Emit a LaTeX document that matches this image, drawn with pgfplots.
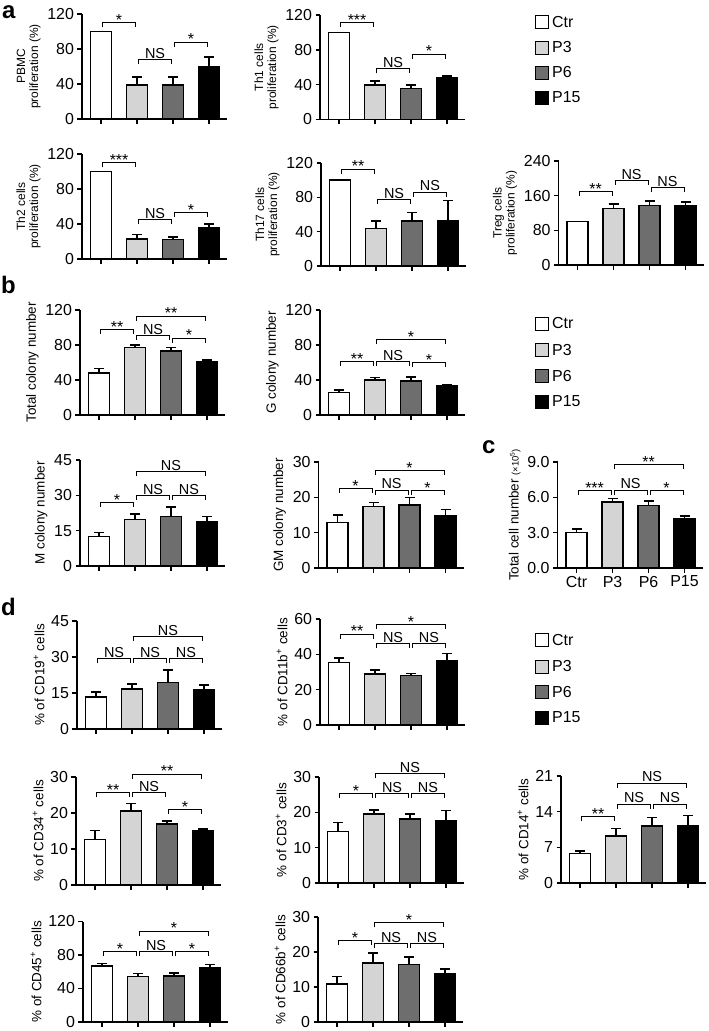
\documentclass[border=0pt]{standalone}
\usepackage{fontspec}
\setmainfont{Liberation Sans}
\usepackage{pgfplots}
\pgfplotsset{compat=1.18}
\usetikzlibrary{calc}
\definecolor{cP3}{gray}{0.83}
\definecolor{cP6}{gray}{0.43}
\newcommand{\tickf}{\fontsize{16}{16}\selectfont}
\newcommand{\labA}{\fontsize{12}{13}\selectfont}
\newcommand{\labB}{\fontsize{13.5}{15}\selectfont}
\newcommand{\sigf}{\fontsize{14.5}{14.5}\selectfont}
\newcommand{\starf}{\fontsize{16}{16}\selectfont}
\newcommand{\legf}{\fontsize{16}{16}\selectfont}
\newcommand{\letf}{\fontsize{24}{24}\selectfont\bfseries}
\pgfplotsset{
 panel/.style={anchor=south west, scale only axis, width=145bp,
  xmin=-0.53, xmax=3.5, ymin=0, clip=false,
  axis x line=bottom, axis y line=left, axis line style={-, line width=1.4bp},
  xtick={0,1,2,3}, xticklabels={},
  tick align=outside, major tick length=4.5bp, tick style={black, line width=1.4bp},
  tick label style={font=\tickf}, /pgf/number format/assume math mode=true,
  ylabel style={font=\labB, align=center}},
 bar/.style={ybar, bar width=21bp, draw=black, line width=1.4bp,
  error bars/y dir=plus, error bars/y explicit,
  error bars/error bar style={black, line width=1.4bp},
  error bars/error mark options={black, rotate=90, mark size=5bp, line width=1.4bp}},
}
% bracket with NS text
\newcommand{\br}[4]{%
 \draw[line width=1bp] ([xshift=1.5bp,yshift=-4.5bp]axis cs:#1,#3) -- ([xshift=1.5bp]axis cs:#1,#3) -- ([xshift=-1.5bp]axis cs:#2,#3) -- ([xshift=-1.5bp,yshift=-4.5bp]axis cs:#2,#3);
 \node[anchor=south, inner sep=0pt, yshift=1bp, font=\sigf] at ($(axis cs:#1,#3)!0.5!(axis cs:#2,#3)$) {#4};}
% bracket with stars
\newcommand{\brs}[4]{%
 \draw[line width=1bp] ([xshift=1.5bp,yshift=-4.5bp]axis cs:#1,#3) -- ([xshift=1.5bp]axis cs:#1,#3) -- ([xshift=-1.5bp]axis cs:#2,#3) -- ([xshift=-1.5bp,yshift=-4.5bp]axis cs:#2,#3);
 \node[anchor=south, inner sep=0pt, yshift=-3bp, font=\starf] at ($(axis cs:#1,#3)!0.5!(axis cs:#2,#3)$) {#4};}
\newcommand{\legentry}[3]{%
 \draw[line width=1bp, fill=#2] (535bp,-#1bp) ++(0,6.5bp) rectangle ++(13bp,-13bp);
 \node[anchor=west, inner sep=0pt, font=\legf] at (552bp,-#1bp) {#3};}
\begin{document}
\begin{tikzpicture}
\useasboundingbox (0,0) rectangle (709bp,-1031bp);
% panel letters
\node[anchor=north west, inner sep=0pt, font=\letf] at (2bp,-5bp) {a};
\node[anchor=north west, inner sep=0pt, font=\letf] at (1bp,-276bp) {b};
\node[anchor=north west, inner sep=0pt, font=\letf] at (482bp,-440bp) {c};
\node[anchor=north west, inner sep=0pt, font=\letf] at (1bp,-598bp) {d};
% legends
\legentry{22}{white}{Ctr}\legentry{47.5}{cP3}{P3}\legentry{72.5}{cP6}{P6}\legentry{97.5}{black}{P15}
\legentry{323.5}{white}{Ctr}\legentry{350}{cP3}{P3}\legentry{376}{cP6}{P6}\legentry{401.5}{black}{P15}
\legentry{640}{white}{Ctr}\legentry{666.5}{cP3}{P3}\legentry{692}{cP6}{P6}\legentry{717.5}{black}{P15}

% PBMC
\begin{axis}[panel, at={(82bp,-119bp)}, height=105bp, ymax=120, ytick={0,40,80,120},
  ylabel={PBMC\\proliferation (\%)}, ylabel style={font=\labA}]
\addplot[bar, fill=white] coordinates {(0,100) +- (0,0)};
\addplot[bar, fill=cP3] coordinates {(1,39) +- (0,9)};
\addplot[bar, fill=cP6] coordinates {(2,39) +- (0,9)};
\addplot[bar, fill=black] coordinates {(3,60) +- (0,11)};
\brs{0}{1}{110}{*}\br{1}{2}{68}{NS}\brs{2}{3}{88}{*}
\end{axis}
% Th1
\begin{axis}[panel, at={(320bp,-119.5bp)}, height=104.5bp, ymax=120, ytick={0,40,80,120},
  ylabel={Th1 cells\\proliferation (\%)}, ylabel style={font=\labA}]
\addplot[bar, fill=white] coordinates {(0,100) +- (0,0)};
\addplot[bar, fill=cP3] coordinates {(1,39.5) +- (0,4.5)};
\addplot[bar, fill=cP6] coordinates {(2,35.3) +- (0,4.2)};
\addplot[bar, fill=black] coordinates {(3,48.5) +- (0,1.5)};
\brs{0}{1}{111}{***}\br{1}{2}{58}{NS}\brs{2}{3}{75}{*}
\end{axis}
% Th2
\begin{axis}[panel, at={(82bp,-259bp)}, height=105bp, ymax=120, ytick={0,40,80,120},
  ylabel={Th2 cells\\proliferation (\%)}, ylabel style={font=\labA}]
\addplot[bar, fill=white] coordinates {(0,100) +- (0,0)};
\addplot[bar, fill=cP3] coordinates {(1,23) +- (0,5)};
\addplot[bar, fill=cP6] coordinates {(2,22.5) +- (0,2.5)};
\addplot[bar, fill=black] coordinates {(3,36) +- (0,4)};
\brs{0}{1}{110}{***}\br{1}{2}{44.6}{NS}\brs{2}{3}{53}{*}
\end{axis}
% Th17
\begin{axis}[panel, at={(321bp,-266bp)}, height=103bp, ymax=120, ytick={0,40,80,120},
  ylabel={Th17 cells\\proliferation (\%)}, ylabel style={font=\labA}]
\addplot[bar, fill=white] coordinates {(0,100) +- (0,0)};
\addplot[bar, fill=cP3] coordinates {(1,43.7) +- (0,8.8)};
\addplot[bar, fill=cP6] coordinates {(2,52.5) +- (0,9.5)};
\addplot[bar, fill=black] coordinates {(3,53) +- (0,23.5)};
\brs{0}{1}{113}{**}\br{1}{2}{77}{NS}\br{2}{3}{86}{NS}
\end{axis}
% Treg
\begin{axis}[panel, at={(558.5bp,-265bp)}, height=104bp, ymax=240, ytick={0,80,160,240},
  ylabel={Treg cells\\proliferation (\%)}, ylabel style={font=\labA}]
\addplot[bar, fill=white] coordinates {(0,100) +- (0,0)};
\addplot[bar, fill=cP3] coordinates {(1,131) +- (0,10)};
\addplot[bar, fill=cP6] coordinates {(2,138) +- (0,10)};
\addplot[bar, fill=black] coordinates {(3,137) +- (0,8)};
\brs{0}{1}{169}{**}\br{1}{2}{194}{NS}\br{2}{3}{179}{NS}
\end{axis}
% Total colony
\begin{axis}[panel, at={(80bp,-415bp)}, height=105bp, ymax=120, ytick={0,40,80,120},
  ylabel={Total colony number}]
\addplot[bar, fill=white] coordinates {(0,48) +- (0,5)};
\addplot[bar, fill=cP3] coordinates {(1,77) +- (0,3)};
\addplot[bar, fill=cP6] coordinates {(2,73) +- (0,4)};
\addplot[bar, fill=black] coordinates {(3,61) +- (0,2)};
\brs{0}{1}{98}{**}\brs{1}{3}{113}{**}\br{1}{2}{91}{NS}\brs{2}{3}{88}{*}
\end{axis}
% G colony
\begin{axis}[panel, at={(320bp,-415bp)}, height=105bp, ymax=120, ytick={0,40,80,120},
  ylabel={G colony number}]
\addplot[bar, fill=white] coordinates {(0,26) +- (0,2.5)};
\addplot[bar, fill=cP3] coordinates {(1,40) +- (0,3)};
\addplot[bar, fill=cP6] coordinates {(2,39) +- (0,4.5)};
\addplot[bar, fill=black] coordinates {(3,33) +- (0,2)};
\brs{0}{1}{61}{**}\brs{1}{3}{86}{*}\br{1}{2}{61}{NS}\brs{2}{3}{60}{*}
\end{axis}
% M colony
\begin{axis}[panel, at={(80bp,-566bp)}, height=106bp, ymax=45, ytick={0,15,30,45},
  ylabel={M colony number}]
\addplot[bar, fill=white] coordinates {(0,12.4) +- (0,1.7)};
\addplot[bar, fill=cP3] coordinates {(1,19.8) +- (0,2.2)};
\addplot[bar, fill=cP6] coordinates {(2,21) +- (0,4)};
\addplot[bar, fill=black] coordinates {(3,19) +- (0,2)};
\brs{0}{1}{27}{*}\br{1}{3}{40}{NS}\br{1}{2}{30}{NS}\br{2}{3}{30}{NS}
\end{axis}
% GM colony
\begin{axis}[panel, at={(318.5bp,-568bp)}, height=106bp, ymax=30, ytick={0,10,20,30},
  ylabel={GM colony number}]
\addplot[bar, fill=white] coordinates {(0,12.8) +- (0,2.2)};
\addplot[bar, fill=cP3] coordinates {(1,17.4) +- (0,1.1)};
\addplot[bar, fill=cP6] coordinates {(2,17.8) +- (0,2.2)};
\addplot[bar, fill=black] coordinates {(3,14.7) +- (0,1.9)};
\brs{0}{1}{22.5}{*}\brs{1}{3}{27.5}{*}\br{1}{2}{22}{NS}\brs{2}{3}{22}{*}
\end{axis}
% c: total cell number
\begin{axis}[panel, at={(557.5bp,-568bp)}, height=106bp, ymax=9, ytick={0,3,6,9},
  yticklabels={0.0,3.0,6.0,9.0}, xticklabels={Ctr,P3,P6,P15},
  ylabel={Total cell number {\fontsize{9.5}{10}\selectfont(×10\textsuperscript{5})}}]
\addplot[bar, fill=white] coordinates {(0,3.0) +- (0,0.3)};
\addplot[bar, fill=cP3] coordinates {(1,5.6) +- (0,0.3)};
\addplot[bar, fill=cP6] coordinates {(2,5.3) +- (0,0.4)};
\addplot[bar, fill=black] coordinates {(3,4.15) +- (0,0.25)};
\brs{0}{1}{6.6}{***}\brs{1}{3}{8.75}{**}\br{1}{2}{6.6}{NS}\brs{2}{3}{6.6}{*}
\end{axis}
% CD19
\begin{axis}[panel, at={(77bp,-729bp)}, height=108bp, ymax=45, ytick={0,15,30,45},
  ylabel={\% of CD19\textsuperscript{+} cells}]
\addplot[bar, fill=white] coordinates {(0,13.4) +- (0,2.1)};
\addplot[bar, fill=cP3] coordinates {(1,16.7) +- (0,2.1)};
\addplot[bar, fill=cP6] coordinates {(2,19.4) +- (0,5.2)};
\addplot[bar, fill=black] coordinates {(3,16.3) +- (0,2.1)};
\br{0}{1}{29.4}{NS}\br{1}{3}{38.5}{NS}\br{1}{2}{29.4}{NS}\br{2}{3}{29.4}{NS}
\end{axis}
% CD11b
\begin{axis}[panel, at={(320bp,-725bp)}, height=106bp, ymax=60, ytick={0,20,40,60},
  ylabel={\% of CD11b\textsuperscript{+} cells}]
\addplot[bar, fill=white] coordinates {(0,35.3) +- (0,2.7)};
\addplot[bar, fill=cP3] coordinates {(1,28.9) +- (0,2.2)};
\addplot[bar, fill=cP6] coordinates {(2,27.9) +- (0,1.3)};
\addplot[bar, fill=black] coordinates {(3,36.2) +- (0,4.4)};
\brs{0}{1}{51.5}{**}\brs{1}{3}{57}{*}\br{1}{2}{46}{NS}\br{2}{3}{46}{NS}
\end{axis}
% CD34
\begin{axis}[panel, at={(76bp,-885bp)}, height=108bp, ymax=30, ytick={0,10,20,30},
  ylabel={\% of CD34\textsuperscript{+} cells}]
\addplot[bar, fill=white] coordinates {(0,12.6) +- (0,2.5)};
\addplot[bar, fill=cP3] coordinates {(1,20.6) +- (0,2.1)};
\addplot[bar, fill=cP6] coordinates {(2,17) +- (0,0.8)};
\addplot[bar, fill=black] coordinates {(3,15) +- (0,0.6)};
\brs{0}{1}{25.6}{**}\brs{1}{3}{30.8}{**}\br{1}{2}{25.6}{NS}\brs{2}{3}{21}{*}
\end{axis}
% CD3
\begin{axis}[panel, at={(319bp,-883bp)}, height=106bp, ymax=30, ytick={0,10,20,30},
  ylabel={\% of CD3\textsuperscript{+} cells}]
\addplot[bar, fill=white] coordinates {(0,14.6) +- (0,2.6)};
\addplot[bar, fill=cP3] coordinates {(1,19.5) +- (0,1.2)};
\addplot[bar, fill=cP6] coordinates {(2,18.1) +- (0,1.4)};
\addplot[bar, fill=black] coordinates {(3,17.5) +- (0,3)};
\brs{0}{1}{25.3}{*}\br{1}{3}{30.9}{NS}\br{1}{2}{25.3}{NS}\br{2}{3}{25.3}{NS}
\end{axis}
% CD14
\begin{axis}[panel, at={(561bp,-883bp)}, height=107bp, ymax=21, ytick={0,7,14,21},
  ylabel={\% of CD14\textsuperscript{+} cells}]
\addplot[bar, fill=white] coordinates {(0,5.8) +- (0,0.5)};
\addplot[bar, fill=cP3] coordinates {(1,9.2) +- (0,1.5)};
\addplot[bar, fill=cP6] coordinates {(2,11.2) +- (0,1.6)};
\addplot[bar, fill=black] coordinates {(3,11.2) +- (0,2)};
\brs{0}{1}{13}{**}\br{1}{3}{19.6}{NS}\br{1}{2}{15.5}{NS}\br{2}{3}{15.5}{NS}
\end{axis}
% CD45
\begin{axis}[panel, at={(83bp,-1022bp)}, height=100.5bp, ymax=120, ytick={0,40,80,120},
  ylabel={\% of CD45\textsuperscript{+} cells}]
\addplot[bar, fill=white] coordinates {(0,67) +- (0,3)};
\addplot[bar, fill=cP3] coordinates {(1,54) +- (0,4)};
\addplot[bar, fill=cP6] coordinates {(2,55) +- (0,3.5)};
\addplot[bar, fill=black] coordinates {(3,65) +- (0,3.5)};
\brs{0}{1}{84}{*}\brs{1}{3}{108.6}{*}\br{1}{2}{83.6}{NS}\brs{2}{3}{83.6}{*}
\end{axis}
% CD66b
\begin{axis}[panel, at={(318bp,-1022bp)}, height=105bp, ymax=30, ytick={0,10,20,30},
  ylabel={\% of CD66b\textsuperscript{+} cells}]
\addplot[bar, fill=white] coordinates {(0,10.9) +- (0,2.1)};
\addplot[bar, fill=cP3] coordinates {(1,16.9) +- (0,2.8)};
\addplot[bar, fill=cP6] coordinates {(2,16.5) +- (0,2.1)};
\addplot[bar, fill=black] coordinates {(3,13.9) +- (0,1.2)};
\brs{0}{1}{23.2}{*}\brs{1}{3}{28.3}{*}\br{1}{2}{22.3}{NS}\br{2}{3}{22.3}{NS}
\end{axis}
\end{tikzpicture}
\end{document}
